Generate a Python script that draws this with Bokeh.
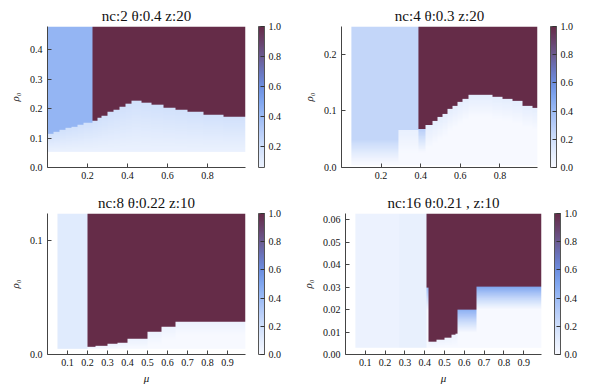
import numpy as np
from bokeh.plotting import figure
from bokeh.models import (LinearColorMapper, ColorBar, FixedTicker,
                          PrintfTickFormatter, Range1d)
from bokeh.layouts import column, row
from bokeh.embed import file_html
from bokeh.resources import INLINE

# ---------------- data ----------------
TITLES = ["nc:2 θ:0.4 z:20", "nc:4 θ:0.3 z:20",
          "nc:8 θ:0.22 z:10", "nc:16 θ:0.21 , z:10"]

# panel 1 : nc=2
P1_MU_EDGES = [0.00, 0.03, 0.06, 0.09, 0.12, 0.15, 0.18, 0.223, 0.25, 0.27, 0.30,
               0.33, 0.36, 0.39, 0.42, 0.47, 0.52, 0.58, 0.64, 0.70, 0.78, 0.88, 0.99]
P1_BOUNDARY = [0.116, 0.121, 0.127, 0.133, 0.138, 0.144, 0.151, 0.160, 0.168, 0.177,
               0.187, 0.196, 0.205, 0.215, 0.227, 0.219, 0.212, 0.203, 0.197, 0.189,
               0.180, 0.172]
P1_UPPER = [0.43] * 7 + [1.0] * 15
P1_LOWER_TOP = [0.19] * 22
P1_LOWER_BOTTOM = 0.065
P1_RHO = (0.053, 0.479)

# panel 2 : nc=4
P2_MU_EDGES = [0.05, 0.285, 0.385, 0.424, 0.458, 0.483, 0.508, 0.533, 0.559, 0.584,
               0.609, 0.643, 0.761, 0.811, 0.862, 0.912, 0.963, 0.99]
P2_BOUNDARY = [0.048, 0.066, 0.067, 0.075, 0.082, 0.088, 0.094, 0.103, 0.109, 0.115,
               0.121, 0.127, 0.123, 0.120, 0.116, 0.109, 0.105]
P2_UPPER = [0.25, 0.25] + [1.0] * 15
P2_LOWER_TOP = [0.24, 0.08, 0.3] + [0.1] * 14
P2_LOWER_BOTTOM = 0.0
P2_RHO = (0.004, 0.2486)

# panel 3 : nc=8
P3_MU_EDGES = [0.05, 0.20, 0.24, 0.30, 0.35, 0.40, 0.50, 0.57, 0.64, 0.99]
P3_BOUNDARY = [0.005, 0.0065, 0.0078, 0.009, 0.0105, 0.0135, 0.020, 0.0245, 0.0287]
P3_UPPER = [0.12] + [1.0] * 8
P3_LOWER_TOP = [0.0] + [0.06] * 8
P3_LOWER_BOTTOM = 0.0
P3_RHO = (0.005, 0.1242)

# panel 4 : nc=16
P4_MU_EDGES = [0.05, 0.27, 0.41, 0.42, 0.458, 0.50, 0.533, 0.558, 0.567, 0.66, 0.99]
P4_BOUNDARY = [0.003, 0.003, 0.0296, 0.0056, 0.0067, 0.0076, 0.0086, 0.0093, 0.0197, 0.030]
P4_UPPER = [0.06, 0.08, 1.0, 1.0, 1.0, 1.0, 1.0, 1.0, 1.0, 1.0]
P4_LOWER_TOP = [0.0, 0.0, 0.4, 0.05, 0.05, 0.05, 0.05, 0.05, 0.45, 0.5]
P4_LOWER_BOTTOM = 0.0
P4_RHO = (0.003, 0.0627)

# ---------------- styling ----------------
STOP_VALUES = [0.0, 0.1, 0.2, 0.3, 0.4, 0.5, 0.6, 0.7, 0.8, 0.9, 1.0]
STOP_COLORS = ["#f7f9ff", "#e4edfd", "#cfdffb", "#b7cdf8", "#9cbbf5", "#80a6ef",
               "#6d8ee0", "#6a75bd", "#6b5b92", "#68426b", "#652c48"]
FONT = "'Liberation Serif', 'Times New Roman', serif"


def hex2rgb(h):
    return [int(h[i:i + 2], 16) for i in (1, 3, 5)]


def make_palette(lo, n=256):
    rgb = np.array([hex2rgb(c) for c in STOP_COLORS], dtype=float)
    vs = np.linspace(lo, 1.0, n)
    out = []
    for v in vs:
        r = np.interp(v, STOP_VALUES, rgb[:, 0])
        g = np.interp(v, STOP_VALUES, rgb[:, 1])
        b = np.interp(v, STOP_VALUES, rgb[:, 2])
        out.append("#%02x%02x%02x" % (int(round(r)), int(round(g)), int(round(b))))
    return out


def build_image(edges, bound, upper, lowtop, lowbot, fade, rho, nx=400, ny=320):
    edges = np.asarray(edges, float)
    mu = np.linspace(edges[0], edges[-1], nx + 1)
    mu = 0.5 * (mu[:-1] + mu[1:])
    rr = np.linspace(rho[0], rho[1], ny + 1)
    rr = 0.5 * (rr[:-1] + rr[1:])
    col = np.clip(np.searchsorted(edges, mu, side="right") - 1, 0, len(bound) - 1)
    B = np.asarray(bound)[col][None, :]
    U = np.asarray(upper)[col][None, :]
    L = np.asarray(lowtop)[col][None, :]
    R = rr[:, None]
    f = np.maximum(np.minimum(fade, B - rho[0]), 1e-9)
    t = np.clip(1.0 - (B - R) / f, 0.0, 1.0)
    val = np.where(R >= B, U, lowbot + (L - lowbot) * t)
    return val


def make_panel(title, edges, bound, upper, lowtop, lowbot, fade, rho,
               xticks, yticks, yfmt, cticks, clow, xlabel,
               left_border, top_border, bottom_border, fw, fh):
    p = figure(frame_width=fw, frame_height=fh,
               x_range=Range1d(0, 0.99), y_range=Range1d(0, rho[1]),
               output_backend="svg", toolbar_location=None,
               min_border_left=left_border, min_border_right=53,
               min_border_top=top_border, min_border_bottom=bottom_border)
    p.outline_line_color = None
    p.grid.visible = False
    p.background_fill_color = "white"
    p.border_fill_color = "white"

    mapper = LinearColorMapper(palette=make_palette(clow), low=clow, high=1.0)
    img = build_image(edges, bound, upper, lowtop, lowbot, fade, rho)
    p.image(image=[img], x=edges[0], y=rho[0], dw=edges[-1] - edges[0],
            dh=rho[1] - rho[0], color_mapper=mapper)

    p.title.text = title
    p.title.text_font = FONT
    p.title.text_font_size = "15px"
    p.title.text_font_style = "normal"
    p.title.text_color = "#111111"
    p.title.align = "center"
    p.title.standoff = 5

    for ax in (p.xaxis[0], p.yaxis[0]):
        ax.axis_line_color = "#444444"
        ax.major_tick_line_color = "#444444"
        ax.major_tick_in = 4
        ax.major_tick_out = 0
        ax.minor_tick_line_color = None
        ax.major_label_text_font = FONT
        ax.major_label_text_font_size = "10px"
        ax.major_label_text_color = "#111111"
        ax.axis_label_text_font = FONT
        ax.axis_label_text_font_size = "11px"
        ax.axis_label_text_font_style = "italic"
        ax.axis_label_text_color = "#111111"
    p.xaxis.ticker = FixedTicker(ticks=xticks)
    p.xaxis.formatter = PrintfTickFormatter(format="%.1f")
    p.xaxis.major_label_standoff = 4
    p.yaxis.ticker = FixedTicker(ticks=yticks)
    p.yaxis.formatter = PrintfTickFormatter(format=yfmt)
    p.yaxis.major_label_standoff = 5
    p.yaxis.axis_label = "ρ₀"
    p.yaxis.axis_label_standoff = 6
    if xlabel:
        p.xaxis.axis_label = "μ"
        p.xaxis.axis_label_standoff = 3

    cb = ColorBar(color_mapper=mapper, width=6, height=fh,
                  location=(fw + 13, 0),
                  ticker=FixedTicker(ticks=cticks),
                  formatter=PrintfTickFormatter(format="%.1f"),
                  major_tick_in=4, major_tick_out=0,
                  major_tick_line_color="#333333",
                  minor_tick_line_color=None,
                  bar_line_color="#555555", bar_line_width=1,
                  major_label_text_font=FONT,
                  major_label_text_font_size="10px",
                  major_label_text_color="#111111",
                  label_standoff=4, padding=0, margin=0,
                  background_fill_color=None, border_line_color=None)
    p.add_layout(cb, "center")
    return p


CT_FULL = [0.0, 0.2, 0.4, 0.6, 0.8, 1.0]
CT_P1 = [0.2, 0.4, 0.6, 0.8, 1.0]
X_TOP = [0.2, 0.4, 0.6, 0.8]
X_BOT = [0.1, 0.2, 0.3, 0.4, 0.5, 0.6, 0.7, 0.8, 0.9]

p1 = make_panel(TITLES[0], P1_MU_EDGES, P1_BOUNDARY, P1_UPPER, P1_LOWER_TOP,
                P1_LOWER_BOTTOM, 1.0, P1_RHO, X_TOP, [0.0, 0.1, 0.2, 0.3, 0.4],
                "%.1f", CT_P1, 0.06, False, 47, 26, 23, 198, 141)
p2 = make_panel(TITLES[1], P2_MU_EDGES, P2_BOUNDARY, P2_UPPER, P2_LOWER_TOP,
                P2_LOWER_BOTTOM, 0.04, P2_RHO, X_TOP, [0.0, 0.1, 0.2],
                "%.1f", CT_FULL, 0.0, False, 43, 26, 23, 196, 141)
p3 = make_panel(TITLES[2], P3_MU_EDGES, P3_BOUNDARY, P3_UPPER, P3_LOWER_TOP,
                P3_LOWER_BOTTOM, 0.012, P3_RHO, X_BOT, [0.0, 0.1],
                "%.1f", CT_FULL, 0.0, True, 47, 22, 37, 198, 141)
p4 = make_panel(TITLES[3], P4_MU_EDGES, P4_BOUNDARY, P4_UPPER, P4_LOWER_TOP,
                P4_LOWER_BOTTOM, 0.01, P4_RHO, X_BOT,
                [0.0, 0.01, 0.02, 0.03, 0.04, 0.05, 0.06],
                "%.2f", CT_FULL, 0.0, True, 43, 22, 37, 196, 141)

layout = column(row(p1, p2), row(p3, p4))
open("out.html", "w").write(file_html(layout, INLINE))
